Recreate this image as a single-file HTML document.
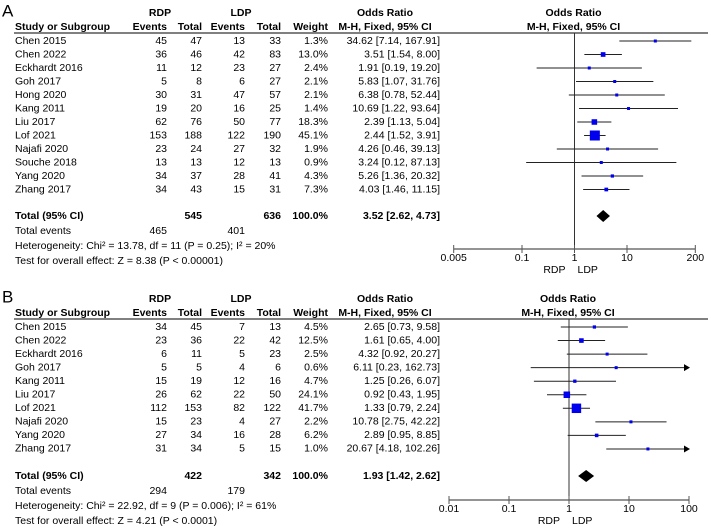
<!DOCTYPE html>
<html><head><meta charset="utf-8"><style>
html,body{margin:0;padding:0;background:#fff}
svg{display:block;font-family:"Liberation Sans","DejaVu Sans",sans-serif;font-size:10.5px}
text{dominant-baseline:middle}
</style></head><body>
<svg id="c" width="708" height="527" viewBox="0 0 708 527"></svg>
<script>
const studiesA = ["Chen 2015","Chen 2022","Eckhardt 2016","Goh 2017","Hong 2020","Kang 2011","Liu 2017","Lof 2021","Najafi 2020","Souche 2018","Yang 2020","Zhang 2017"];
const rdpEvA = [45,36,11,5,30,19,62,153,23,13,34,34];
const rdpTotA = [47,46,12,8,31,20,76,188,24,13,37,43];
const ldpEvA = [13,42,23,6,47,16,50,122,27,12,28,15];
const ldpTotA = [33,83,27,27,57,25,77,190,32,13,41,31];
const weightA = [1.3,13.0,2.4,2.1,2.1,1.4,18.3,45.1,1.9,0.9,4.3,7.3];
const orA = [34.62,3.51,1.91,5.83,6.38,10.69,2.39,2.44,4.26,3.24,5.26,4.03];
const loA = [7.14,1.54,0.19,1.07,0.78,1.22,1.13,1.52,0.46,0.12,1.36,1.46];
const hiA = [167.91,8.00,19.20,31.76,52.44,93.64,5.04,3.91,39.13,87.13,20.32,11.15];
const totalA = {rdp:545, ldp:636, or:3.52, lo:2.62, hi:4.73, evR:465, evL:401};
const ticksA = [0.005,0.1,1,10,200];
const hetA = "Heterogeneity: Chi² = 13.78, df = 11 (P = 0.25); I² = 20%";
const testA = "Test for overall effect: Z = 8.38 (P < 0.00001)";

const studiesB = ["Chen 2015","Chen 2022","Eckhardt 2016","Goh 2017","Kang 2011","Liu 2017","Lof 2021","Najafi 2020","Yang 2020","Zhang 2017"];
const rdpEvB = [34,23,6,5,15,26,112,15,27,31];
const rdpTotB = [45,36,11,5,19,62,153,23,34,34];
const ldpEvB = [7,22,5,4,12,22,82,4,16,5];
const ldpTotB = [13,42,23,6,16,50,122,27,28,15];
const weightB = [4.5,12.5,2.5,0.6,4.7,24.1,41.7,2.2,6.2,1.0];
const orB = [2.65,1.61,4.32,6.11,1.25,0.92,1.33,10.78,2.89,20.67];
const loB = [0.73,0.65,0.92,0.23,0.26,0.43,0.79,2.75,0.95,4.18];
const hiB = [9.58,4.00,20.27,162.73,6.07,1.95,2.24,42.22,8.85,102.26];
const totalB = {rdp:422, ldp:342, or:1.93, lo:1.42, hi:2.62, evR:294, evL:179};
const ticksB = [0.01,0.1,1,10,100];
const hetB = "Heterogeneity: Chi² = 22.92, df = 9 (P = 0.006); I² = 61%";
const testB = "Test for overall effect: Z = 4.21 (P < 0.0001)";

const svg = document.getElementById('c');
const NS = "http://www.w3.org/2000/svg";
function el(tag, attrs, parent){const e=document.createElementNS(NS,tag);for(const k in attrs)e.setAttribute(k,attrs[k]);(parent||svg).appendChild(e);return e;}
function txt(x,y,s,anchor,g,bold,size){const t=el('text',{x:x,y:y,'text-anchor':anchor||'start'},g);if(bold)t.setAttribute('font-weight','bold');if(size)t.setAttribute('font-size',size);t.textContent=s;return t;}
function f2(v){return v.toFixed(2);}

function panel(cfg){
  const g = el('g',{});
  
  
  const sx = v => cfg.x1 + Math.log10(v)*cfg.dec;
  const lbl = txt(2, cfg.top-1, cfg.label, 'start', g, false, 17);
  
  
  const h1=cfg.top, h2=cfg.top+14;
  txt(160,h1,'RDP','middle',g,true); txt(241,h1,'LDP','middle',g,true);
  txt(385,h1,'Odds Ratio','middle',g,true); txt(cfg.x1-1,h1,'Odds Ratio','middle',g,true);
  txt(15,h2,'Study or Subgroup','start',g,true);
  txt(167,h2,'Events','end',g,true); txt(202,h2,'Total','end',g,true);
  txt(245,h2,'Events','end',g,true); txt(281,h2,'Total','end',g,true);
  txt(328,h2,'Weight','end',g,true); txt(385,h2,'M-H, Fixed, 95% CI','middle',g,true);
  txt(cfg.x1-1,h2,'M-H, Fixed, 95% CI','middle',g,true);
  const hl = el('line',{x1:14,x2:708,y1:h2+6,y2:h2+6,stroke:'#000','stroke-width':1},g);
  
  
  const nl = el('line',{x1:sx(1),x2:sx(1),y1:h2+6,y2:cfg.axisY,stroke:'#333','stroke-width':1},g);
  
  
  const xmax = cfg.ticks[cfg.ticks.length-1], xmin = cfg.ticks[0];
  cfg.studies.forEach((s,i)=>{
    const y = cfg.rowY + i*cfg.step;
    const row = el('g',{},g);
    
    
    txt(15,y,s,'start',row);
    txt(167,y,cfg.rE[i],'end',row); txt(202,y,cfg.rT[i],'end',row);
    txt(245,y,cfg.lE[i],'end',row); txt(281,y,cfg.lT[i],'end',row);
    txt(328,y,cfg.w[i].toFixed(1)+'%','end',row);
    txt(440,y,f2(cfg.or[i])+' ['+f2(cfg.lo[i])+', '+f2(cfg.hi[i])+']','end',row);
    const xa = sx(Math.max(cfg.lo[i],xmin)), xb = sx(Math.min(cfg.hi[i],xmax));
    const ci = el('line',{x1:xa,x2:xb,y1:y,y2:y,stroke:'#222','stroke-width':1},row);
    
    
    if(cfg.hi[i]>xmax){
      const ar = el('polygon',{points:`${xb+1},${y} ${xb-5},${y-3.5} ${xb-5},${y+3.5}`,fill:'#000'},row);
      
      
    }
    const sz = Math.max(3, 2.5 + 7.5*cfg.w[i]/45);
    const sq = el('rect',{x:sx(cfg.or[i])-sz/2,y:y-sz/2,width:sz,height:sz,fill:'#0000ee'},row);
    
    
  });
  const T=cfg.total, ty=cfg.totY;
  txt(15,ty,'Total (95% CI)','start',g,true);
  txt(202,ty,T.rdp,'end',g,true); txt(281,ty,T.ldp,'end',g,true);
  txt(328,ty,'100.0%','end',g,true);
  txt(440,ty,f2(T.or)+' ['+f2(T.lo)+', '+f2(T.hi)+']','end',g,true);
  const dm = el('polygon',{points:`${sx(T.lo)},${ty} ${sx(T.or)},${ty-6} ${sx(T.hi)},${ty} ${sx(T.or)},${ty+6}`,fill:'#000'},g);
  
  
  txt(15,ty+15,'Total events','start',g); txt(167,ty+15,T.evR,'end',g); txt(245,ty+15,T.evL,'end',g);
  txt(15,ty+30,cfg.het,'start',g); txt(15,ty+45,cfg.test,'start',g);
  const ax = el('line',{x1:sx(xmin),x2:sx(xmax),y1:cfg.axisY,y2:cfg.axisY,stroke:'#555','stroke-width':1.3},g);
  
  
  cfg.ticks.forEach(t=>{
    el('line',{x1:sx(t),x2:sx(t),y1:cfg.axisY-4,y2:cfg.axisY+4,stroke:'#555','stroke-width':1},g);
    const tl = txt(sx(t),cfg.axisY+9,String(t),'middle',g);
    
    
  });
  txt(sx(1)-9,cfg.axisY+21,'RDP','end',g); txt(sx(1)+3,cfg.axisY+21,'LDP','start',g);
}

panel({name:'panel-a',label:'A',top:13,x1:574.5,dec:52.5,ticks:ticksA,axisY:249,rowY:41,step:13.5,totY:216,
  studies:studiesA,rE:rdpEvA,rT:rdpTotA,lE:ldpEvA,lT:ldpTotA,w:weightA,or:orA,lo:loA,hi:hiA,total:totalA,het:hetA,test:testA});
panel({name:'panel-b',label:'B',top:299,x1:569,dec:60,ticks:ticksB,axisY:500,rowY:327,step:13.55,totY:476,
  studies:studiesB,rE:rdpEvB,rT:rdpTotB,lE:ldpEvB,lT:ldpTotB,w:weightB,or:orB,lo:loB,hi:hiB,total:totalB,het:hetB,test:testB});
</script>
</body></html>
